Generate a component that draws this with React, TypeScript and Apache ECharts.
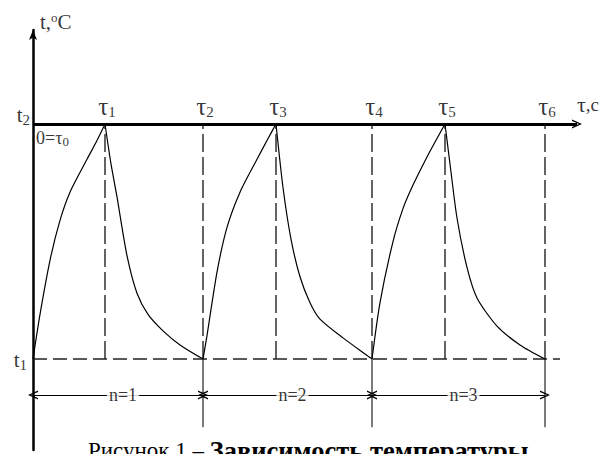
import React, { useEffect, useRef } from "react";
import * as echarts from "echarts";

// temperature levels (t1 = lower, t2 = upper)
const tLow = 0;
const tHigh = 10;
// time marks τ0..τ6
const tauTimes = [0, 7.2, 17.0, 24.3, 33.9, 41.2, 51.2];
const tauSubs = ["1", "2", "3", "4", "5", "6"];
const cycleNames = ["n=1", "n=2", "n=3"];
const xAxisEnd = 54.4;
const lowLineEnd = 52.7;
const dimLevel = -1.53;
const extLevel = -2.9;
const yMin = -3.87;
const yMax = 14.0;

// heating / cooling curves: [time, temperature]
const heat1 = [[0, 0], [0.7, 1.9], [1.7, 4.2], [2.7, 5.9], [3.7, 7.1], [5.4, 8.5], [6.4, 9.3], [7.2, 10]];
const cool1 = [[7.2, 10], [7.8, 8.3], [8.4, 6.9], [9.4, 4.4], [10.4, 2.8], [11.5, 1.9], [13.0, 1.2], [14.7, 0.6], [17.0, 0]];
const heat2 = [[17.0, 0], [17.4, 1.0], [18.4, 3.7], [19.4, 5.6], [20.7, 7.1], [22.4, 8.5], [23.4, 9.3], [24.3, 10]];
const cool2 = [[24.3, 10], [25.0, 7.3], [25.8, 5.1], [26.7, 3.5], [27.7, 2.4], [28.7, 1.7], [31.0, 0.9], [33.9, 0]];
const heat3 = [[33.9, 0], [34.7, 2.4], [36.0, 5.0], [37.0, 6.4], [38.0, 7.4], [39.4, 8.6], [41.2, 10]];
const cool3 = [[41.2, 10], [41.7, 8.3], [42.4, 6.0], [43.4, 3.9], [44.4, 2.6], [46.4, 1.4], [48.7, 0.6], [51.2, 0]];

const FONT = "Liberation Serif";
const chevron = "path://M5,0L10,10L8.4,10L5,3L1.6,10L0,10Z";

export default function App() {
  const ref = useRef<HTMLDivElement>(null);
  useEffect(() => {
    if (!ref.current) return;
    const chart = echarts.init(ref.current, undefined, { renderer: "svg" });

    const curves = [heat1, cool1, heat2, cool2, heat3, cool3].map((d) => ({
      type: "line",
      data: d,
      smooth: 0.25,
      symbol: "none",
      silent: true,
      lineStyle: { color: "#000", width: 1.2 },
      z: 5,
    }));

    const seg = (a: number[], b: number[], style: any, z = 3) => ({
      type: "line",
      data: [a, b],
      symbol: "none",
      silent: true,
      lineStyle: style,
      z,
    });

    const dashedStyle = { color: "#222", width: 1.4, type: [18, 5] };
    const verticals = tauTimes.slice(1).map((t) => seg([t, tLow], [t, tHigh], dashedStyle));
    const extensions = tauTimes
      .filter((_, i) => i % 2 === 0 && i > 0)
      .map((t) => seg([t, tLow], [t, extLevel], { color: "#222", width: 1.2 }));

    const lowLine = seg([0, tLow], [lowLineEnd, tLow], { color: "#222", width: 1.6, type: [14, 6] });

    const dims = [0, 1, 2].map((k) => [
      { coord: [tauTimes[2 * k], dimLevel], symbol: chevron },
      { coord: [tauTimes[2 * k + 2], dimLevel], symbol: chevron },
    ]);

    const markSeries = {
      type: "line",
      data: [],
      symbol: "none",
      silent: true,
      markLine: {
        silent: true,
        animation: false,
        label: { show: false },
        symbolSize: [9, 10],
        lineStyle: { color: "#000", width: 1.2, type: "solid" },
        data: [
          [
            { coord: [0, tHigh], symbol: "none", lineStyle: { color: "#000", width: 3, type: "solid" } },
            { coord: [xAxisEnd, tHigh], symbol: chevron },
          ],
          ...dims,
        ],
      },
    };

    const rich = {
      a: { fontFamily: FONT, fontSize: 21, color: "#000" },
      g: { fontFamily: FONT, fontSize: 25, color: "#000" },
      s: { fontFamily: FONT, fontSize: 15, color: "#000", padding: [10, 0, 0, 0] },
      o: { fontFamily: FONT, fontSize: 13, color: "#000", padding: [0, 0, 8, 0] },
      n: { fontFamily: FONT, fontSize: 18, color: "#000", backgroundColor: "#fff", padding: [0, 2] },
      z: { fontFamily: FONT, fontSize: 18, color: "#000" },
      zs: { fontFamily: FONT, fontSize: 13, color: "#000", padding: [8, 0, 0, 0] },
      c: { fontFamily: FONT, fontSize: 19, color: "#000" },
      cg: { fontFamily: FONT, fontSize: 22, color: "#000" },
    };

    const tauPoints = tauTimes.slice(1).map((t, i) => ({
      value: [t, tHigh],
      label: { show: true, position: "top", distance: 2, offset: [2, -3], formatter: `{g|τ}{s|${tauSubs[i]}}`, rich },
    }));
    const cyclePoints = cycleNames.map((nm, k) => ({
      value: [(tauTimes[2 * k] + tauTimes[2 * k + 2]) / 2, dimLevel],
      label: { show: true, position: "inside", offset: [5, 0], formatter: `{n|${nm}}`, rich },
    }));
    const otherPoints = [
      { value: [0, tHigh], label: { show: true, position: "left", distance: 3, offset: [0, -9], formatter: "{a|t}{s|2}", rich } },
      { value: [0, tLow], label: { show: true, position: "left", distance: 6, offset: [0, 1], formatter: "{a|t}{s|1}", rich } },
      { value: [0, tHigh], label: { show: true, position: [3, 3], formatter: "{z|0=τ}{zs|0}", rich } },
      { value: [0, yMax], label: { show: true, position: [7, -19], formatter: "{a|t,}{o|o}{a|C}", rich } },
      { value: [xAxisEnd, tHigh], label: { show: true, position: [0, -31], formatter: "{cg|τ}{c|,c}", rich } },
    ];

    const labelSeries = {
      type: "scatter",
      symbolSize: 0,
      silent: true,
      z: 10,
      data: [...tauPoints, ...cyclePoints, ...otherPoints],
    };

    chart.setOption({
      animation: false,
      backgroundColor: "#fff",
      grid: { left: 33, right: 23, top: 30, bottom: 4 },
      xAxis: {
        type: "value",
        min: 0,
        max: xAxisEnd,
        axisLine: { show: false },
        axisTick: { show: false },
        axisLabel: { show: false },
        splitLine: { show: false },
      },
      yAxis: {
        type: "value",
        min: yMin,
        max: yMax,
        axisLine: {
          show: true,
          symbol: ["none", "arrow"],
          symbolSize: [6, 10],
          lineStyle: { color: "#000", width: 2.5 },
        },
        axisTick: { show: false },
        axisLabel: { show: false },
        splitLine: { show: false },
      },
      series: [...verticals, ...extensions, lowLine, ...curves, markSeries, labelSeries],
      graphic: [
        {
          type: "text",
          left: 88,
          top: 437,
          z: 20,
          style: {
            text: "{r|Рисунок 1 – }{b|Зависимость температуры}",
            rich: {
              r: { fontFamily: FONT, fontSize: 23, color: "#000" },
              b: { fontFamily: FONT, fontSize: 26.5, fontWeight: "bold", color: "#000" },
            },
          },
        },
      ],
    });
    return () => chart.dispose();
  }, []);
  return <div ref={ref} style={{ position: "absolute", left: 0, top: 0, width: 600, height: 454 }} />;
}
